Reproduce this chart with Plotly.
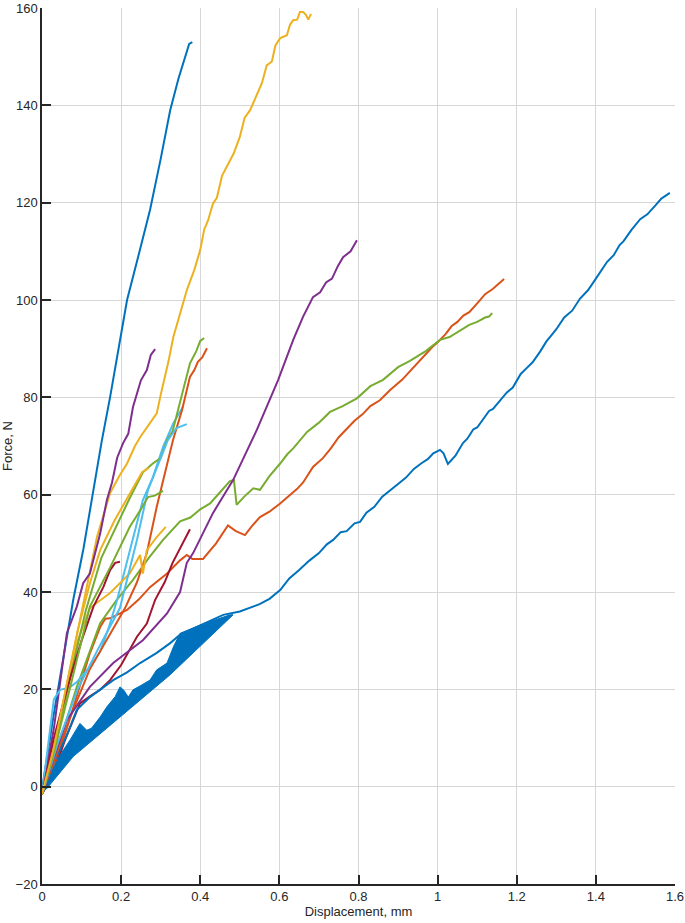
import plotly.graph_objects as go

# - - - - - - - - - - - - - - - - - - - - - - - - - -
# Force / displacement curves
# - - - - - - - - - - - - - - - - - - - - - - - - - -

# blue, steep
x_blue1 = [0, 0.003, 0.03, 0.079, 0.105, 0.126, 0.151, 0.172, 0.195, 0.215, 0.245, 0.273, 0.3, 0.324, 0.345, 0.366, 0.372, 0.38]
y_blue1 = [-1.5, 1, 15, 38.4, 49, 59, 71, 80, 90.5, 100, 109.5, 118.5, 129, 139, 145.5, 151.3, 152.6, 153]

# orange, long
x_orange1 = [0, 0.03, 0.063, 0.096, 0.121, 0.147, 0.16, 0.172, 0.215, 0.245, 0.273, 0.316, 0.349, 0.366, 0.38, 0.407,
             0.44, 0.47, 0.49, 0.513, 0.53, 0.551, 0.575, 0.602, 0.627, 0.645, 0.66, 0.685, 0.71, 0.73, 0.75, 0.771,
             0.79, 0.81, 0.83, 0.854, 0.88, 0.91, 0.93, 0.95, 0.97, 0.986, 1.0, 1.02, 1.035, 1.05, 1.065, 1.08, 1.1,
             1.12, 1.14, 1.155, 1.168]
y_orange1 = [-1.5, 4, 12, 20.5, 27.4, 32.8, 34.5, 34.6, 36.3, 38.5, 41, 43.8, 46.5, 47.6, 46.8, 46.8,
             50, 53.7, 52.5, 51.7, 53.5, 55.4, 56.5, 58.2, 60, 61.2, 62.5, 65.7, 67.5, 69.5, 71.8, 73.7,
             75.2, 76.5, 78.2, 79.4, 81.5, 83.6, 85.4, 87, 88.8, 90.3, 91.3, 93, 94.6, 95.5, 96.8, 97.5, 99.3,
             101.2, 102.3, 103.4, 104.3]

# yellow, up to 158
x_yellow1 = [0, 0.03, 0.06, 0.1, 0.139, 0.172, 0.195, 0.215, 0.235, 0.248, 0.27, 0.29, 0.3, 0.307, 0.32, 0.332,
             0.35, 0.366, 0.385, 0.4, 0.41, 0.42, 0.432, 0.442, 0.455, 0.47, 0.485, 0.5, 0.512, 0.526, 0.54, 0.556,
             0.568, 0.581, 0.59, 0.602, 0.619, 0.627, 0.635, 0.645, 0.652, 0.66, 0.667, 0.673, 0.68]
y_yellow1 = [-1.5, 8, 20, 36, 51.3, 60.3, 63.8, 66.4, 70, 71.8, 74.5, 76.7, 80.5, 82.9, 87.5, 92.4,
             97.5, 102, 106.2, 110.3, 114.5, 116.4, 119.8, 121, 125.5, 128, 130.2, 133.5, 137.4, 139, 141.5, 144.6,
             148.2, 149, 152.3, 153.8, 154.4, 156.6, 157.5, 157.6, 159.2, 159.2, 158.6, 157.6, 158.8]

# purple, steep
x_purple1 = [0, 0.03, 0.063, 0.088, 0.104, 0.121, 0.147, 0.164, 0.177, 0.19, 0.205, 0.218, 0.23, 0.25, 0.265, 0.275, 0.286]
y_purple1 = [-1.5, 12, 31.6, 37, 41.8, 43.8, 52, 58.9, 62.5, 67.6, 70.6, 72.5, 78, 83.5, 85.6, 88.7, 89.9]

# green, long
x_green1 = [0, 0.04, 0.088, 0.147, 0.19, 0.23, 0.27, 0.306, 0.349, 0.375, 0.4, 0.425, 0.45, 0.475, 0.485, 0.492,
            0.51, 0.534, 0.551, 0.575, 0.602, 0.62, 0.635, 0.67, 0.7, 0.728, 0.76, 0.796, 0.83, 0.862, 0.9, 0.93,
            0.97, 1.006, 1.03, 1.06, 1.08, 1.1, 1.12, 1.13, 1.138]
y_green1 = [-1.5, 8, 20.5, 33.6, 38.5, 42.5, 47, 50.7, 54.5, 55.3, 57, 58.2, 60.5, 62.8, 63, 57.9,
            59.5, 61.3, 61, 63.8, 66.4, 68.3, 69.5, 72.9, 74.8, 77, 78.2, 79.8, 82.3, 83.6, 86.2, 87.5,
            89.5, 91.8, 92.4, 93.8, 94.9, 95.5, 96.4, 96.6, 97.3]

# light blue, with flat start
x_lblue1 = [0, 0.02, 0.03, 0.046, 0.07, 0.088, 0.121, 0.147, 0.17, 0.19, 0.23, 0.255, 0.28, 0.306, 0.332, 0.356]
y_lblue1 = [-1.5, 12, 18, 19.9, 20.4, 21.5, 24.6, 27.7, 33, 38.4, 50.7, 58.9, 63.5, 69.8, 74.7, 78]

# dark red
x_red1 = [0, 0.03, 0.06, 0.096, 0.12, 0.147, 0.172, 0.2, 0.24, 0.265, 0.286, 0.31, 0.33, 0.35, 0.374]
y_red1 = [-1.5, 3, 10, 17.1, 18.5, 19.9, 21.9, 25, 30.8, 33.5, 38.4, 42, 46, 49, 52.9]

# blue, long (line part)
x_blue2 = [0, 0.03, 0.06, 0.088, 0.121, 0.147, 0.18, 0.215, 0.248, 0.29, 0.324, 0.35, 0.4, 0.458, 0.5, 0.55,
           0.575, 0.602, 0.625, 0.65, 0.675, 0.7, 0.72, 0.736, 0.755, 0.77, 0.79, 0.804, 0.82, 0.84, 0.86, 0.88,
           0.9, 0.92, 0.94, 0.96, 0.975, 0.989, 1.006, 1.015, 1.026, 1.045,
           1.064, 1.075, 1.09, 1.1, 1.115, 1.13, 1.14, 1.16, 1.175, 1.19, 1.21, 1.225, 1.24, 1.259, 1.275, 1.29,
           1.3, 1.32, 1.34, 1.36, 1.38, 1.4, 1.415, 1.428, 1.445, 1.46, 1.47, 1.49, 1.512, 1.53, 1.55, 1.565,
           1.572, 1.587]
y_blue2 = [-1.5, 5, 10, 15.8, 18.4, 19.9, 21.9, 23.5, 25.4, 27.5, 29.5, 31.3, 33.2, 35.3, 36, 37.5,
           38.6, 40.4, 42.8, 44.5, 46.4, 48, 49.8, 50.7, 52.3, 52.5, 54.1, 54.4, 56.3, 57.5, 59.6, 61,
           62.2, 63.5, 65.3, 66.5, 67.3, 68.5, 69.2, 68.5, 66.3, 68,
           70.6, 71.5, 73.4, 73.8, 75.6, 77.2, 77.6, 79.6, 81.0, 82.0, 84.8, 86.0, 87.2, 89.4, 91.5, 93.0,
           94.0, 96.4, 97.8, 100.3, 102.0, 104.4, 106.2, 107.8, 109.2, 111.3, 112.1, 114.4, 116.6, 117.6, 119.4, 120.8,
           121.2, 122.0]

# blue, long (dense oscillation region, outline)
x_blue2_band = [0.005, 0.03, 0.05, 0.071, 0.096, 0.105, 0.113, 0.125, 0.147, 0.164, 0.185, 0.197, 0.207, 0.218,
                0.23, 0.25, 0.273, 0.29, 0.316, 0.332, 0.349, 0.4, 0.44, 0.475, 0.483,
                0.324, 0.079, 0.011]
y_blue2_band = [-1, 4, 7, 9.6, 13, 12.2, 11.6, 12, 14.3, 16.4, 18.5, 20.5, 19.8, 18.4,
                19.9, 20.8, 21.9, 24, 25.4, 28.7, 31.5, 33.2, 34.3, 35.3, 35.3,
                23, 6.2, -0.5]

# orange, ends at 90
x_orange2 = [0, 0.03, 0.07, 0.12, 0.17, 0.21, 0.24, 0.265, 0.29, 0.316, 0.331, 0.354, 0.374, 0.385, 0.394, 0.405, 0.417]
y_orange2 = [-1.5, 5, 14, 24, 31, 36.7, 42, 48, 57.5, 66.4, 71.2, 77.4, 84.2, 85.6, 87.3, 88.2, 90.1]

# yellow, with kink, ends at 53
x_yellow2 = [0, 0.03, 0.06, 0.09, 0.121, 0.172, 0.222, 0.248, 0.255, 0.265, 0.29, 0.313]
y_yellow2 = [-1.5, 7, 18, 30, 36.7, 39.8, 43.8, 47.6, 43.8, 48.6, 51.3, 53.4]

# purple, long
x_purple2 = [0, 0.03, 0.063, 0.121, 0.18, 0.255, 0.316, 0.349, 0.366, 0.382, 0.432, 0.483, 0.543, 0.597, 0.635,
             0.66, 0.685, 0.703, 0.718, 0.733, 0.748, 0.761, 0.78, 0.796]
y_purple2 = [-1.5, 6, 13.7, 20.5, 25.4, 30.1, 35.6, 40, 46, 48, 56.2, 63, 73.3, 83.6, 91.8,
             96.6, 100.6, 101.6, 103.6, 104.4, 107.0, 108.8, 110.0, 112.3]

# green, ends at 92
x_green2 = [0, 0.03, 0.07, 0.11, 0.15, 0.19, 0.22, 0.255, 0.28, 0.3, 0.316, 0.33, 0.344, 0.354, 0.374, 0.39, 0.4, 0.41]
y_green2 = [-1.5, 8, 22, 36, 47, 54, 59, 64.6, 66.4, 67.5, 71.2, 73, 77.4, 80.8, 87, 89.5, 91.6, 92.2]

# light blue, ends at 74
x_lblue2 = [0, 0.04, 0.09, 0.14, 0.197, 0.24, 0.268, 0.298, 0.318, 0.34, 0.366]
y_lblue2 = [-1.5, 9, 20, 28, 36.7, 50.7, 61, 67.1, 71.2, 73.7, 74.5]

# dark red, short
x_red2 = [0, 0.03, 0.07, 0.1, 0.13, 0.155, 0.172, 0.185, 0.197]
y_red2 = [-1.5, 10, 22, 30, 37, 41, 44.5, 46, 46.2]

# green, ends at 60
x_green3 = [0, 0.03, 0.07, 0.121, 0.172, 0.222, 0.25, 0.268, 0.285, 0.306]
y_green3 = [-1.5, 7, 20, 37, 45, 53.4, 57, 59.5, 59.8, 60.8]

# yellow, ends at 65
x_yellow3 = [0, 0.03, 0.06, 0.09, 0.121, 0.147, 0.184, 0.22, 0.253, 0.27]
y_yellow3 = [-1.5, 8, 20, 32, 41.8, 48.6, 54.8, 60, 64.6, 65.5]

x_ticks = [0, 0.2, 0.4, 0.6, 0.8, 1, 1.2, 1.4, 1.6]
y_ticks = [-20, 0, 20, 40, 60, 80, 100, 120, 140, 160]

# matlab default colour order
c_blue = "#0072BD"
c_orange = "#D95319"
c_yellow = "#EDB120"
c_purple = "#7E2F8E"
c_green = "#77AC30"
c_lblue = "#4DBEEE"
c_red = "#A2142F"

curves = [
    (x_blue1, y_blue1, c_blue),
    (x_orange1, y_orange1, c_orange),
    (x_yellow1, y_yellow1, c_yellow),
    (x_purple1, y_purple1, c_purple),
    (x_green1, y_green1, c_green),
    (x_lblue1, y_lblue1, c_lblue),
    (x_red1, y_red1, c_red),
    (x_blue2, y_blue2, c_blue),
    (x_orange2, y_orange2, c_orange),
    (x_yellow2, y_yellow2, c_yellow),
    (x_purple2, y_purple2, c_purple),
    (x_green2, y_green2, c_green),
    (x_lblue2, y_lblue2, c_lblue),
    (x_red2, y_red2, c_red),
    (x_green3, y_green3, c_green),
    (x_yellow3, y_yellow3, c_yellow),
]

fig = go.Figure()

for xs, ys, col in curves:
    fig.add_trace(go.Scatter(x=xs, y=ys, mode="lines", line=dict(color=col, width=2), hoverinfo="skip"))
    if xs is x_blue2:
        fig.add_trace(go.Scatter(x=x_blue2_band, y=y_blue2_band, mode="lines", fill="toself",
                                 fillcolor=c_blue, line=dict(color=c_blue, width=1), hoverinfo="skip"))

font_ax = dict(family="Liberation Sans, Arial", size=13, color="#262626")

axis_style = dict(
    showline=True, linecolor="#262626", linewidth=1.5, mirror=False,
    ticks="inside", ticklen=9, tickwidth=1.5, tickcolor="#262626",
    showgrid=True, gridcolor="#d6d6d6", gridwidth=1, zeroline=False,
    tickfont=font_ax, automargin=False,
)

fig.update_xaxes(range=[0, 1.6], tickvals=x_ticks, ticktext=[str(v) for v in x_ticks],
                 title=dict(text="Displacement, mm", standoff=2, font=font_ax),
                 **axis_style)
fig.update_yaxes(range=[-20, 160], tickvals=y_ticks,
                 title=dict(text="Force, N", standoff=2, font=font_ax),
                 **axis_style)

fig.update_layout(
    width=685, height=923,
    margin=dict(l=42, r=10, t=8, b=39),
    plot_bgcolor="white", paper_bgcolor="white",
    showlegend=False,
)

# page has a default 8px body margin, drop it so the figure sits at 0,0
fig.write_html("out.html", config={"displayModeBar": False},
               post_script="document.body.style.margin='0';")
